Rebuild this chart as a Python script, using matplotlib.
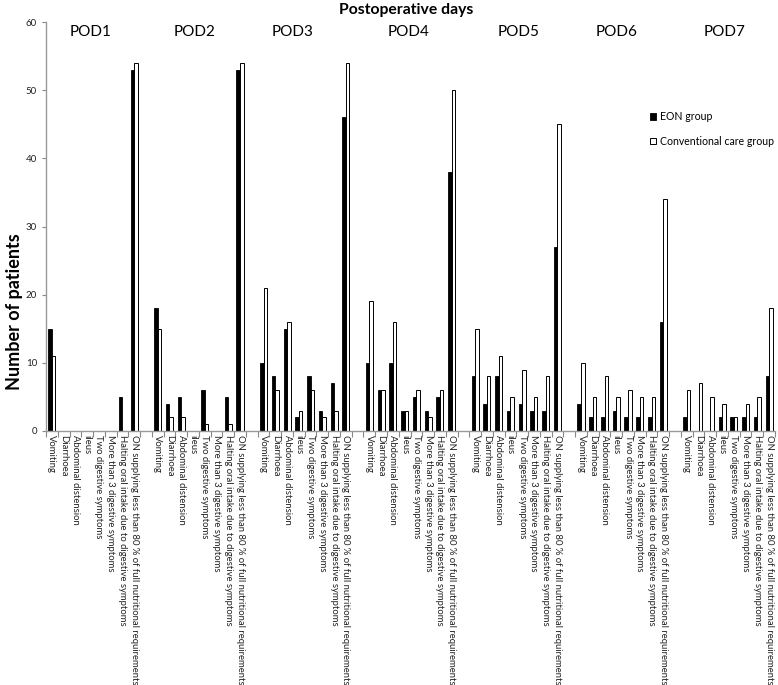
import matplotlib
matplotlib.use("Agg")
import matplotlib.pyplot as plt
from matplotlib.patches import Patch
from matplotlib.ticker import FixedLocator, NullFormatter, FixedFormatter

days = ["POD1", "POD2", "POD3", "POD4", "POD5", "POD6", "POD7"]
categories = ["Vomiting", "Diarrhoea", "Abdominal distension", "ileus",
              "Two digestive symptoms", "More than 3 digestive symptoms",
              "Halting oral intake due to digestive symptoms",
              "ON supplying less than 80 % of full nutritional requirements"]

eon_pod1 = [15, 0, 0, 0, 0, 0, 5, 53]
eon_pod2 = [18, 4, 5, 0, 6, 0, 5, 53]
eon_pod3 = [10, 8, 15, 2, 8, 3, 7, 46]
eon_pod4 = [10, 6, 10, 3, 5, 3, 5, 38]
eon_pod5 = [8, 4, 8, 3, 4, 3, 3, 27]
eon_pod6 = [4, 2, 2, 3, 2, 2, 2, 16]
eon_pod7 = [2, 0, 0, 2, 2, 2, 2, 8]

conv_pod1 = [11, 0, 0, 0, 0, 0, 0, 54]
conv_pod2 = [15, 2, 2, 0, 1, 0, 1, 54]
conv_pod3 = [21, 6, 16, 3, 6, 2, 3, 54]
conv_pod4 = [19, 6, 16, 3, 6, 2, 6, 50]
conv_pod5 = [15, 8, 11, 5, 9, 5, 8, 45]
conv_pod6 = [10, 5, 8, 5, 6, 5, 5, 34]
conv_pod7 = [6, 7, 5, 4, 2, 4, 5, 18]

eon = [eon_pod1, eon_pod2, eon_pod3, eon_pod4, eon_pod5, eon_pod6, eon_pod7]
conv = [conv_pod1, conv_pod2, conv_pod3, conv_pod4, conv_pod5, conv_pod6, conv_pod7]

series_labels = ["EON group", "Conventional care group"]
y_ticks = [0, 10, 20, 30, 40, 50, 60]

# manual x offsets (in category slots) of the day captions, as placed in the original
day_label_shift = [-0.25, -0.35, -1.0, -0.2, 0.2, -0.5, -0.3]

plt.rcParams['font.family'] = ['Lato', 'DejaVu Sans']

fig = plt.figure(figsize=(7.78, 6.85), dpi=100)
ax = fig.add_axes([46/778, 1 - 431/685, (775-46)/778, (431-22)/685])

nslot = len(categories) + 1
bw = 0.3
positions, labels = [], []
for g in range(len(days)):
    xs = [g * nslot + c for c in range(len(categories))]
    ax.bar([x - bw/2 for x in xs], eon[g], width=bw, color="black",
           edgecolor="black", linewidth=0.6)
    ax.bar([x + bw/2 for x in xs], conv[g], width=bw, color="white",
           edgecolor="black", linewidth=0.7)
    positions += xs
    labels += categories
    ax.text(g * nslot + (len(categories) - 1) / 2 + day_label_shift[g], 58.6,
            days[g], ha="center", va="center", fontsize=11, color="black")

total = len(days) * nslot - 1
ax.set_xlim(-0.5, total - 0.5)
ax.set_ylim(0, 60)
ax.set_yticks(y_ticks)
ax.tick_params(axis="y", labelsize=7, length=3, color="#888888", width=0.8,
               labelcolor="#222222")

ax.xaxis.set_major_locator(FixedLocator([k - 0.5 for k in range(total + 1)]))
ax.xaxis.set_major_formatter(NullFormatter())
ax.xaxis.set_minor_locator(FixedLocator(positions))
ax.xaxis.set_minor_formatter(FixedFormatter(labels))
ax.tick_params(axis="x", which="major", length=4, color="#888888", width=0.8)
ax.tick_params(axis="x", which="minor", length=0, labelsize=6.8, pad=3,
               labelcolor="#222222")
for t in ax.xaxis.get_minorticklabels():
    t.set_rotation(270)
    t.set_va("top")
    t.set_ha("center")

for s in ["top", "right"]:
    ax.spines[s].set_visible(False)
for s in ["left", "bottom"]:
    ax.spines[s].set_color("#999999")
    ax.spines[s].set_linewidth(1.0)

ax.set_ylabel("Number of patients", fontsize=13, fontweight="bold")
ax.yaxis.set_label_coords((23 - 46) / 729, (431 - 312) / 409)
fig.text(406/778, 1 - 10/685, "Postoperative days", ha="center", va="center",
         fontsize=11.3, fontweight="bold")

handles = [Patch(facecolor="black", edgecolor="black", linewidth=0.6),
           Patch(facecolor="white", edgecolor="black", linewidth=0.7)]
ax.legend(handles, series_labels, loc="upper left",
          bbox_to_anchor=((645-46)/729, (431-106)/409), frameon=False,
          fontsize=7.6, handlelength=0.55, handleheight=0.55, handletextpad=0.35,
          labelspacing=1.3, borderpad=0)

fig.savefig("out.png", dpi=100)
